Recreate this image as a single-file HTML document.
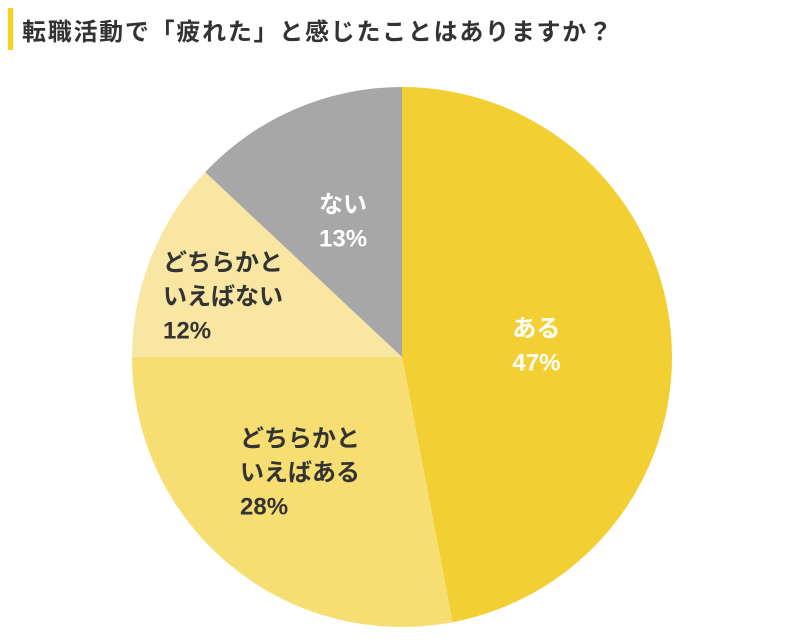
<!DOCTYPE html>
<html><head><meta charset="utf-8"><style>
body{margin:0;background:#fff;}
svg{display:block;font-family:"Liberation Sans","Noto Sans CJK JP",sans-serif;font-weight:bold;}
</style></head><body>
<svg id="chart" width="800" height="643" viewBox="0 0 800 643">
<rect x="8" y="8" width="5" height="42" fill="#f5d21c"/>
<text x="22" y="40" font-size="24" fill="#333" textLength="590" lengthAdjust="spacing">転職活動で「疲れた」と感じたことはありますか？</text>
<g id="slices"></g>
<g id="labels"></g>
</svg>
<script>
const categories=["ある","どちらかといえばある","どちらかといえばない","ない"];
const values=[47,28,12,13];
const labelLines=[["ある","47%"],["どちらかと","いえばある","28%"],["どちらかと","いえばない","12%"],["ない","13%"]];
const colors=["#f2d034","#f6de72","#f8e6a2","#a7a7a7"];
const textColors=["#fff","#333","#333","#fff"];
const cx=402,cy=357,r=270;
const NS="http://www.w3.org/2000/svg";
const total=values.reduce((a,b)=>a+b,0);
function angle(v){return v/total*2*Math.PI;}
function pt(a,rr){return [cx+rr*Math.sin(a),cy-rr*Math.cos(a)];}
const sg=document.getElementById('slices'),lg=document.getElementById('labels');
let acc=0;
const labelPos=[[540,0.5,"middle"],[240,0.55,"start"],[163,0.62,"start"],[333,0.55,"middle"]];
values.forEach((v,i)=>{
  const a0=angle(acc),a1=angle(acc+v);acc+=v;
  const p0=pt(a0,r),p1=pt(a1,r);
  const large=(a1-a0)>Math.PI?1:0;
  const p=document.createElementNS(NS,'path');
  p.setAttribute('d',`M${cx},${cy}L${p0[0]},${p0[1]}A${r},${r} 0 ${large} 1 ${p1[0]},${p1[1]}Z`);
  p.setAttribute('fill',colors[i]);
  
  
  sg.appendChild(p);
  const mid=(a0+a1)/2;
  const c=pt(mid,r*labelPos[i][1]);
  const lines=labelLines[i];
  const lh=34;
  const y0=c[1]-(lines.length-1)*lh/2+9;
  const t=document.createElementNS(NS,'text');
  t.setAttribute('fill',textColors[i]);
  t.setAttribute('font-size','24');
  t.setAttribute('text-anchor',labelPos[i][2]);
  
  
  const x=labelPos[i][2]==="middle"?c[0]:labelPos[i][0];
  lines.forEach((s,j)=>{
    const ts=document.createElementNS(NS,'tspan');
    ts.setAttribute('x',x);
    ts.setAttribute('y',y0+j*lh);
    ts.textContent=s;
    t.appendChild(ts);
  });
  lg.appendChild(t);
});
</script>
</body></html>
